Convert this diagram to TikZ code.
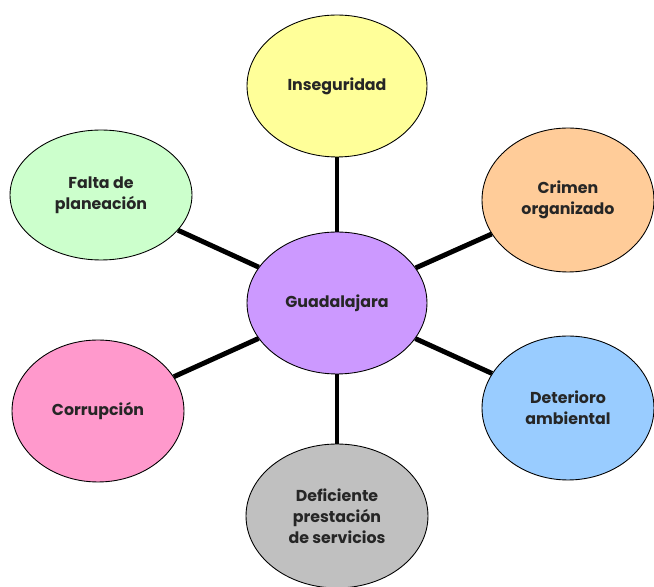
\documentclass[tikz,border=0pt]{standalone}
\usepackage{fontspec}
\setmainfont{Poppins}
\usetikzlibrary{shapes}

\definecolor{cyellow}{HTML}{FFFF99}
\definecolor{corange}{HTML}{FFCC99}
\definecolor{cgreen}{HTML}{CCFFCC}
\definecolor{cpurple}{HTML}{CC99FF}
\definecolor{cpink}{HTML}{FF99CC}
\definecolor{cblue}{HTML}{99CCFF}
\definecolor{cgray}{HTML}{C0C0C0}

\begin{document}
\begin{tikzpicture}[x = 0.02cm, y = -0.02cm]
\tikzstyle{Topic}=[shape = ellipse, draw = black, line width = 0.5pt,
minimum width = 3.6cm, minimum height = 2.84cm, inner sep = 0pt, align = center,
text = black!85, font = \fontsize{9pt}{12pt}\selectfont\bfseries]
\tikzstyle{Link}=[line width = 2.8pt, black]
\useasboundingbox (0,0) rectangle (654,587);
\node[Topic, fill = cpurple] (gdl) at (337,303) {Guadalajara};
\node[Topic, fill = cyellow] (inseg) at (337,86) {Inseguridad};
\node[Topic, fill = corange, minimum width = 3.44cm, minimum height = 2.88cm] (crimen) at (568,200) {Crimen\\organizado};
\node[Topic, fill = cgreen, minimum width = 3.64cm, minimum height = 2.6cm] (falta) at (101,195) {Falta de\\planeación};
\node[Topic, fill = cpink, minimum width = 3.44cm, minimum height = 2.84cm] (corrup) at (98,411) {Corrupción};
\node[Topic, fill = cblue, minimum width = 3.44cm, minimum height = 2.88cm] (deter) at (568,408) {Deterioro\\ambiental};
\node[Topic, fill = cgray, minimum width = 3.64cm, minimum height = 2.88cm] (defic) at (337,516) {Deficiente\\prestación\\de servicios};
\draw[Link] (gdl) -- (inseg);
\draw[Link] (gdl) -- (crimen);
\draw[Link] (gdl) -- (falta);
\draw[Link] (gdl) -- (corrup);
\draw[Link] (gdl) -- (deter);
\draw[Link] (gdl) -- (defic);
\end{tikzpicture}
\end{document}
